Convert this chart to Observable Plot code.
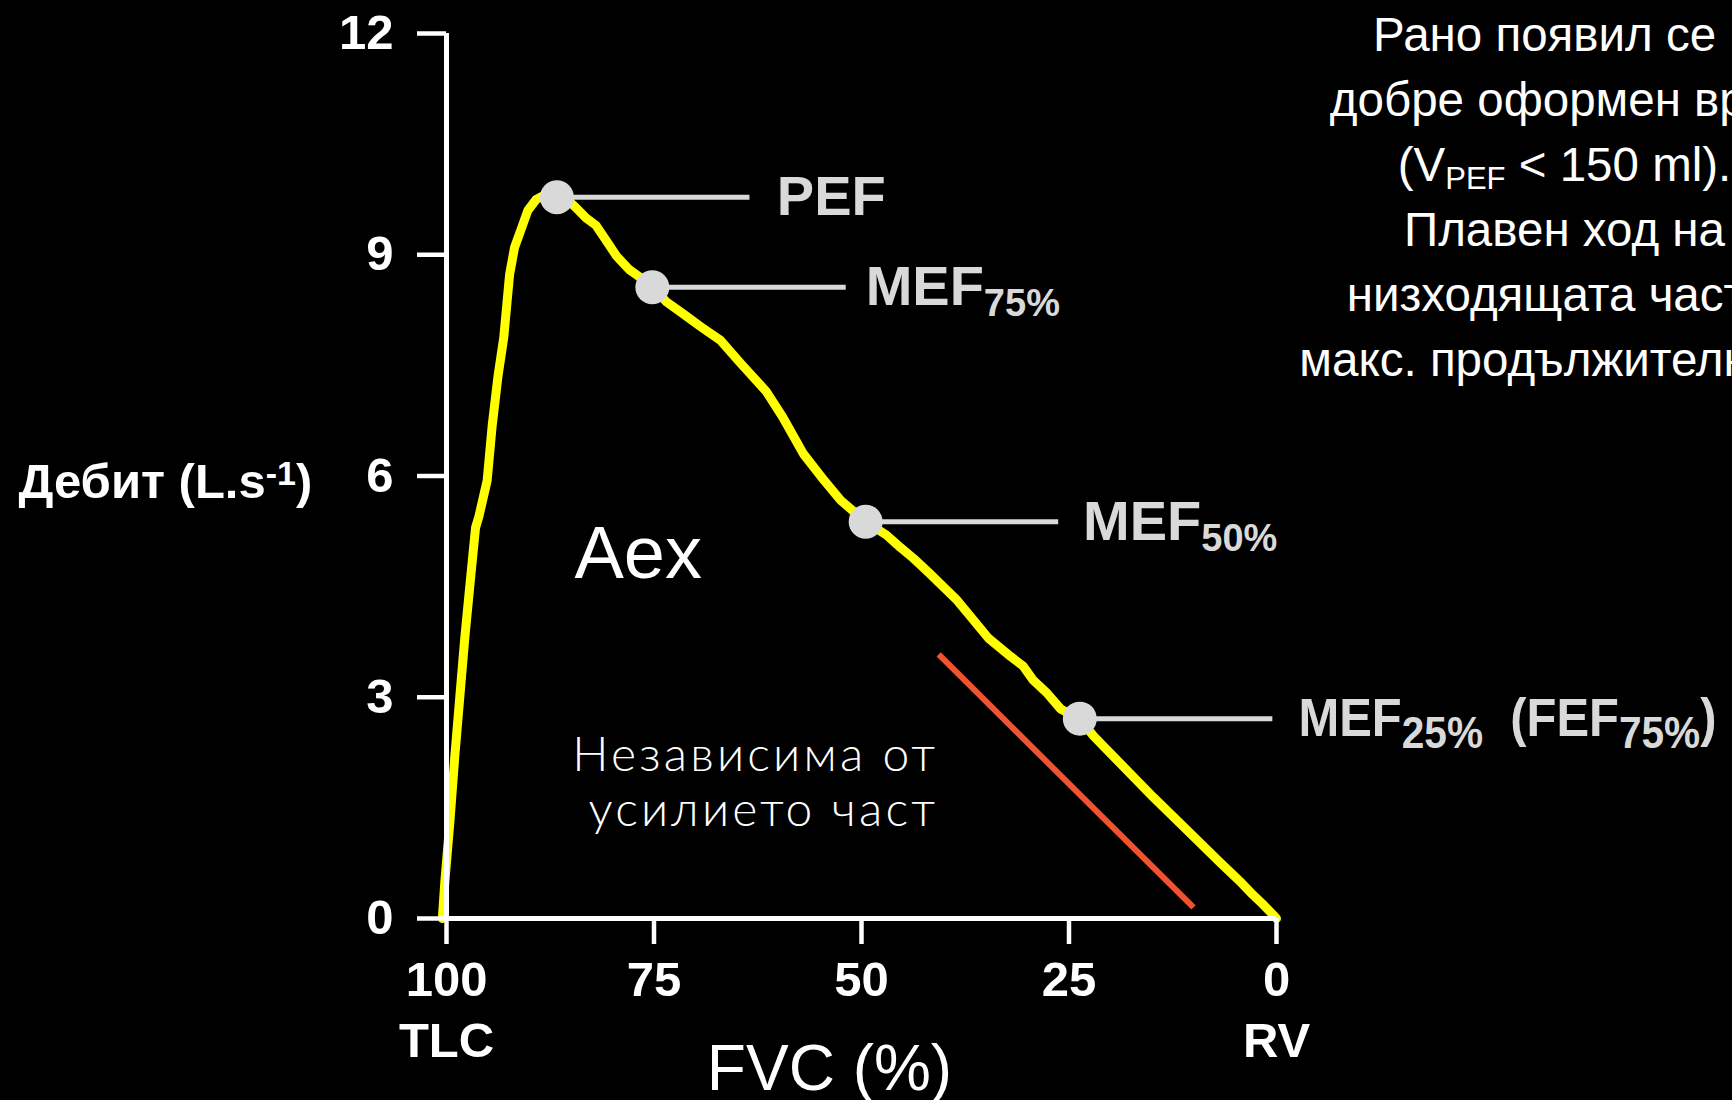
<!DOCTYPE html>
<html>
<head>
<meta charset="utf-8">
<script src="https://cdn.jsdelivr.net/npm/d3@7"></script>
<script src="https://cdn.jsdelivr.net/npm/@observablehq/plot@0.6"></script>
<style>
  html, body { margin: 0; padding: 0; background: #000; overflow: hidden; }
  #chart svg { display: block; }
</style>
</head>
<body>
<div id="chart"></div>
<script>
// ---------- data ----------
// Flow–volume curve: FVC (%) remaining vs. flow (L/s)
const curveFvc  = [100.5, 100.2, 99.6, 99.0, 98.4, 97.8, 97.2, 96.5, 96.1, 95.1, 94.5, 93.8, 93.1, 92.4, 91.8, 91.0, 90.2, 89.2, 88.0, 86.7, 85.5, 84.5, 83.2, 82.0, 80.8, 79.5, 78.0, 76.5, 75.2, 73.5, 71.5, 69.3, 67.0, 64.5, 61.5, 59.5, 57.0, 54.5, 52.5, 49.5, 47.0, 45.3, 43.7, 41.8, 38.6, 34.7, 32.0, 30.5, 29.3, 27.6, 26.0, 23.7, 22.0, 18.8, 14.8, 10.7, 6.7, 4.2, 3.1, 1.7, 0.4, 0];
const curveFlow = [0, 0.5, 1.3, 2.2, 3.0, 3.8, 4.5, 5.3, 5.45, 5.94, 6.68, 7.35, 7.88, 8.73, 9.1, 9.35, 9.6, 9.75, 9.82, 9.8, 9.75, 9.65, 9.5, 9.4, 9.2, 8.98, 8.8, 8.68, 8.56, 8.36, 8.2, 8.02, 7.84, 7.52, 7.15, 6.8, 6.3, 5.94, 5.67, 5.38, 5.2, 5.03, 4.88, 4.68, 4.33, 3.8, 3.55, 3.42, 3.23, 3.05, 2.84, 2.7, 2.47, 2.1, 1.64, 1.19, 0.75, 0.48, 0.35, 0.2, 0.05, 0];

// Marked points
const pointNames    = ["PEF", "MEF_{75%}", "MEF_{50%}", "MEF_{25%}  (FEF_{75%})"];
const pointFvc      = [86.7, 75.2, 49.5, 23.7];
const pointFlow     = [9.78, 8.56, 5.38, 2.71];
const leaderEndFvc  = [63.5, 51.9, 26.3, 0.5];
const labelStartFvc = [60.2, 49.5, 23.3, -2.65];

// Effort-independent slope line
const effortFvc  = [40.7, 10.0];
const effortFlow = [3.58, 0.15];

// Axes
const xTicks     = [100, 75, 50, 25, 0];
const xTickNotes = ["TLC", "", "", "", "RV"];
const yTicks     = [0, 3, 6, 9, 12];
const xTitle     = "FVC (%)";
const yTitle     = "Дебит (L.s^{-1})";

// Annotations
const aexText    = "Aex";
const aexAt      = [76.9, 4.62];
const effortText = ["Независима от", " усилието част"];
const effortAt   = [62.8, 1.26];
const noteLines  = [
  "Рано появил се и",
  "добре оформен връх",
  "(V_{PEF} < 150 ml).",
  "Плавен ход на",
  "низходящата част с",
  "макс. продължителност."
];

// ---------- build ----------
const curve  = curveFvc.map((x, i) => ({x, y: curveFlow[i]}));
const points = pointNames.map((name, i) => ({
  name, x: pointFvc[i], y: pointFlow[i], x2: leaderEndFvc[i], xl: labelStartFvc[i]
}));
const effort = [{x1: effortFvc[0], y1: effortFlow[0], x2: effortFvc[1], y2: effortFlow[1]}];
const noteOf = new Map(xTicks.map((t, i) => [t, xTickNotes[i]]));

const labelSize = {"PEF": 56, "MEF_{75%}": 56, "MEF_{50%}": 56, "MEF_{25%}  (FEF_{75%})": 53};
const richStyles = {
  "MEF_{75%}": {sub: 38, shift: 11},
  "MEF_{50%}": {sub: 38, shift: 11},
  "MEF_{25%}  (FEF_{75%})": {sub: 44, shift: 12, textLength: 418},
  "(V_{PEF} < 150 ml).": {sub: 31, shift: 8},
  "Дебит (L.s^{-1})": {sub: 34, shift: -13}
};

const plot = Plot.plot({
  width: 1732,
  height: 1100,
  marginLeft: 446,
  marginRight: 456,
  marginTop: 33,
  marginBottom: 182,
  x: {domain: [100, 0]},
  y: {domain: [0, 12]},
  style: {background: "#000", color: "#fff", fontFamily: "'Liberation Sans', Arial, sans-serif"},
  marks: [
    Plot.line(curve, {x: "x", y: "y", stroke: "#ffff00", strokeWidth: 9, strokeLinejoin: "round", strokeLinecap: "round"}),
    Plot.link(effort, {x1: "x1", y1: "y1", x2: "x2", y2: "y2", stroke: "#ef5330", strokeWidth: 6}),
    Plot.ruleY([0], {x1: 100, x2: 0, stroke: "#fff", strokeWidth: 5}),
    Plot.ruleX([100], {y1: 0, y2: 12, stroke: "#fff", strokeWidth: 5}),
    Plot.axisX(xTicks, {
      tickSize: 26, tickPadding: 7, strokeWidth: 4.5, stroke: "#fff", fill: "#fff",
      fontSize: 49, fontWeight: "bold", lineHeight: 1.265, label: null,
      tickFormat: d => noteOf.get(d) ? `${d}\n${noteOf.get(d)}` : `${d}`
    }),
    Plot.axisY(yTicks, {
      tickSize: 29, tickPadding: 24, strokeWidth: 4.5, stroke: "#fff", fill: "#fff",
      fontSize: 49, fontWeight: "bold", label: null, tickFormat: d => `${d}`
    }),
    Plot.link(points, {x1: "x", x2: "x2", y1: "y", y2: "y", stroke: "#d9d9d9", strokeWidth: 5}),
    Plot.dot(points, {x: "x", y: "y", r: 17, fill: "#d9d9d9"}),
    Plot.text(points, {
      x: "xl", y: "y", text: "name", textAnchor: "start",
      fill: "#d9d9d9", fontWeight: "bold", fontSize: d => labelSize[d.name]
    }),
    Plot.text([aexText], {x: () => aexAt[0], y: () => aexAt[1], text: d => d, fontSize: 74, lineAnchor: "bottom", fill: "#fff"}),
    Plot.text([effortText.join("\n")], {
      x: () => effortAt[0], y: () => effortAt[1], text: d => d,
      fontSize: 48, lineHeight: 1.146, lineAnchor: "bottom", fill: "#fff",
      fontFamily: "Lato, 'Open Sans', sans-serif", fontWeight: 300
    }),
    Plot.text([yTitle], {
      frameAnchor: "left", y: () => 6, text: d => d, textAnchor: "start",
      dx: -428, dy: 22, lineAnchor: "bottom", fontSize: 49, fontWeight: "bold", fill: "#fff"
    }),
    Plot.text([xTitle], {
      frameAnchor: "bottom", text: d => d, dx: -32, dy: 171, lineAnchor: "bottom",
      fontSize: 64, fill: "#fff"
    }),
    Plot.text([noteLines.join("\n")], {
      frameAnchor: "top-right", text: d => d, dx: 288, dy: -29, lineAnchor: "top",
      lineHeight: 1.368, fontSize: 47.5, fill: "#fff", textAnchor: "middle"
    })
  ]
});

// Turn _{...} / ^{...} markup into subscript / superscript tspans
function richify(svg) {
  const NS = "http://www.w3.org/2000/svg";
  svg.querySelectorAll("text, tspan").forEach(el => {
    if (el.childNodes.length !== 1 || el.firstChild.nodeType !== 3) return;
    const raw = el.textContent;
    if (!/[_^]\{/.test(raw)) return;
    const st = richStyles[raw] || {sub: 30, shift: 10};
    const re = /([_^])\{([^}]*)\}/g;
    el.textContent = "";
    let last = 0, m, pending = 0;
    const addPlain = (s) => {
      if (!s) return;
      const t = document.createElementNS(NS, "tspan");
      if (pending) { t.setAttribute("dy", -pending); pending = 0; }
      t.textContent = s;
      el.appendChild(t);
    };
    while ((m = re.exec(raw))) {
      addPlain(raw.slice(last, m.index));
      const t = document.createElementNS(NS, "tspan");
      t.setAttribute("dy", st.shift - pending);
      pending = st.shift;
      t.setAttribute("font-size", st.sub);
      t.textContent = m[2];
      el.appendChild(t);
      last = re.lastIndex;
    }
    addPlain(raw.slice(last));
    if (st.textLength) {
      el.setAttribute("textLength", st.textLength);
      el.setAttribute("lengthAdjust", "spacingAndGlyphs");
    }
  });
  svg.querySelectorAll("text").forEach(t => {
    t.style.whiteSpace = "pre";
    if (t.textContent.includes("Независима")) t.style.letterSpacing = "3.2px";
  });
}
richify(plot);
document.getElementById("chart").appendChild(plot);
</script>
</body>
</html>
